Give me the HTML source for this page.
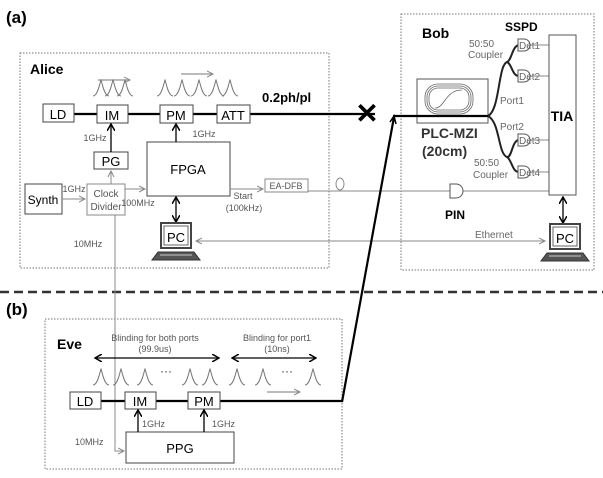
<!DOCTYPE html>
<html><head><meta charset="utf-8"><style>
html,body{margin:0;padding:0;background:#fff}
svg{display:block;font-family:"Liberation Sans",Arial,sans-serif}
</style></head><body>
<svg width="603" height="478" viewBox="0 0 603 478" xmlns="http://www.w3.org/2000/svg">
<defs>
<marker id="ab" markerWidth="8" markerHeight="8" refX="6" refY="4" orient="auto" markerUnits="userSpaceOnUse"><path d="M0,0 L7,4 L0,8" fill="none" stroke="#000" stroke-width="1.5"/></marker>
<marker id="ag" markerWidth="8" markerHeight="8" refX="6" refY="4" orient="auto" markerUnits="userSpaceOnUse"><path d="M0,1 L6,4 L0,7" fill="none" stroke="#888" stroke-width="1"/></marker>
<marker id="abs" markerWidth="8" markerHeight="8" refX="6" refY="4" orient="auto-start-reverse" markerUnits="userSpaceOnUse"><path d="M0,0 L7,4 L0,8" fill="none" stroke="#000" stroke-width="1.5"/></marker>
<g id="pk"><path d="M-8,0 C-3,0 -1,-14 0,-16 C1,-14 3,0 8,0" fill="none" stroke="#777" stroke-width="1"/></g>
<g id="pc"><rect x="-15" y="0" width="30" height="25" fill="#fff" stroke="#444" stroke-width="2"/><rect x="-12" y="3" width="24" height="19" fill="#fff" stroke="#666"/><path d="M-18,29 L18,29 L24,37 L-24,37 Z" fill="#555" stroke="#333"/><line x1="-16" y1="32" x2="16" y2="32" stroke="#ccc"/></g>
<g id="det"><path d="M0,-6 L6,-6 A6,6 0 0 1 6,6 L0,6 Z" fill="#fff" stroke="#555" stroke-width="1"/></g>
</defs>
<g font-weight="bold" font-size="17" fill="#000"><text x="6" y="23">(a)</text><text x="6" y="315">(b)</text></g>
<rect x="20" y="53" width="309" height="215" fill="none" stroke="#777" stroke-dasharray="1.5,1.5"/>
<rect x="401" y="14" width="193" height="256" fill="none" stroke="#777" stroke-dasharray="1.5,1.5"/>
<rect x="45" y="319" width="297" height="150" fill="none" stroke="#777" stroke-dasharray="1.5,1.5"/>
<line x1="0" y1="292" x2="603" y2="292" stroke="#333" stroke-width="2.5" stroke-dasharray="9,5"/>
<g font-weight="bold" font-size="14"><text x="30" y="74">Alice</text><text x="422" y="38">Bob</text><text x="57" y="349">Eve</text></g>
<line x1="74" y1="114" x2="375" y2="114" stroke="#000" stroke-width="2.2"/>
<text x="367" y="123" font-size="28" font-weight="bold" text-anchor="middle">✕</text>
<g font-size="13" stroke="#444" fill="#fff">
<rect x="43" y="104" width="31" height="18"/><rect x="97" y="105" width="31" height="18"/><rect x="160" y="105" width="33" height="18"/><rect x="217" y="105" width="33" height="18"/>
<rect x="94" y="152" width="34" height="17"/><rect x="147" y="142" width="83" height="54"/><rect x="25" y="184" width="37" height="30"/><rect x="87" y="184" width="38" height="31" stroke="#888"/><rect x="265" y="179" width="43" height="13" stroke="#888"/>
</g>
<g font-size="13" text-anchor="middle" fill="#000">
<text x="58" y="119">LD</text><text x="112" y="120">IM</text><text x="176" y="120">PM</text><text x="233" y="120">ATT</text><text x="111" y="166">PG</text><text x="188" y="174">FPGA</text><text x="43" y="204" font-size="12">Synth</text>
</g>
<text x="262" y="102" font-size="13" font-weight="bold">0.2ph/pl</text>
<g font-size="9" fill="#555" text-anchor="middle"><text x="106" y="197" font-size="10">Clock</text><text x="106" y="210" font-size="10">Divider</text><text x="286" y="189">EA-DFB</text>
<text x="74" y="192">1GHz</text><text x="138" y="206">100MHz</text><text x="243" y="199">Start</text><text x="244" y="211">(100kHz)</text><text x="95" y="141">1GHz</text><text x="204" y="137">1GHz</text><text x="88" y="247">10MHz</text></g>
<use href="#pk" x="101" y="96"/><use href="#pk" x="113" y="96"/><use href="#pk" x="125" y="96"/>
<use href="#pk" x="165" y="96"/><use href="#pk" x="182" y="96"/><use href="#pk" x="199" y="96"/><use href="#pk" x="216" y="96"/><use href="#pk" x="230" y="96"/>
<line x1="98" y1="80" x2="130" y2="80" stroke="#777" marker-end="url(#ag)"/>
<line x1="181" y1="74" x2="213" y2="74" stroke="#777" marker-end="url(#ag)"/>
<g stroke="#000" stroke-width="1.3"><line x1="111" y1="152" x2="111" y2="125" marker-end="url(#ab)"/><line x1="176" y1="142" x2="176" y2="125" marker-end="url(#ab)"/><line x1="176" y1="198" x2="176" y2="221" marker-end="url(#abs)" marker-start="url(#abs)"/></g>
<g stroke="#888" stroke-width="1" fill="none">
<line x1="111" y1="184" x2="111" y2="171" marker-end="url(#ag)"/><line x1="62" y1="199" x2="85" y2="199" marker-end="url(#ag)"/><line x1="125" y1="189" x2="145" y2="189" marker-end="url(#ag)"/><line x1="230" y1="189" x2="263" y2="189" marker-end="url(#ag)"/>
<line x1="308" y1="191" x2="450" y2="191"/><ellipse cx="340" cy="184" rx="4" ry="6"/>
<line x1="545" y1="241" x2="196" y2="241" marker-end="url(#ag)"/><line x1="196" y1="241" x2="545" y2="241" marker-end="url(#ag)"/>
<line x1="462" y1="191" x2="549" y2="191"/>
<polyline points="115,215 115,451 124,451" marker-end="url(#ag)"/>
</g>
<use href="#pc" x="176" y="223"/>
<text x="176" y="242" font-size="13" text-anchor="middle">PC</text>
<path d="M450,184 L456,184 A7,7 0 0 1 456,198 L450,198 Z" fill="#fff" stroke="#555"/>
<text x="455" y="219" font-size="12" font-weight="bold" text-anchor="middle">PIN</text>
<text x="475" y="238" font-size="10" fill="#666">Ethernet</text>
<rect x="417" y="79" width="71" height="44" fill="#fff" stroke="#555"/>
<g fill="none" stroke="#666" stroke-width="0.8">
<rect x="425" y="84" width="48" height="30" rx="13"/><rect x="427" y="86" width="44" height="26" rx="11"/><rect x="429" y="88" width="40" height="22" rx="9"/>
<path d="M435,108 C445,108 445,90 462,90"/>
</g>
<polyline points="342,402 394,117" fill="none" stroke="#000" stroke-width="2.2"/>
<line x1="393" y1="116" x2="488" y2="116" stroke="#000" stroke-width="2.2"/>
<path d="M396,124 L394,116 L390,122" fill="none" stroke="#000" stroke-width="1.5"/>
<g fill="none" stroke="#222" stroke-width="2">
<path d="M488,116 C500,110 498,65 507,62 C512,60 512,46 519,45"/><path d="M507,62 C512,64 512,76 519,76"/>
<path d="M488,116 C500,122 498,154 507,157 C512,158 512,140 519,140"/><path d="M507,157 C512,160 512,172 519,172"/>
</g>
<use href="#det" x="518" y="45"/><use href="#det" x="518" y="76"/><use href="#det" x="518" y="140"/><use href="#det" x="518" y="172"/>
<g font-size="10" fill="#666"><text x="519" y="49">Det1</text><text x="519" y="80">Det2</text><text x="519" y="144">Det3</text><text x="519" y="176">Det4</text>
<text x="469" y="47">50:50</text><text x="468" y="58">Coupler</text><text x="474" y="166">50:50</text><text x="473" y="178">Coupler</text><text x="500" y="104">Port1</text><text x="500" y="130">Port2</text></g>
<g stroke="#888"><line x1="530" y1="45" x2="549" y2="45"/><line x1="530" y1="76" x2="549" y2="76"/><line x1="530" y1="140" x2="549" y2="140"/><line x1="530" y1="172" x2="549" y2="172"/></g>
<text x="505" y="31" font-size="12" font-weight="bold">SSPD</text>
<rect x="549" y="35" width="27" height="160" fill="#fff" stroke="#555"/>
<text x="562" y="121" font-size="14" font-weight="bold" text-anchor="middle">TIA</text>
<g font-size="14" font-weight="bold" fill="#333"><text x="421" y="138">PLC-MZI</text><text x="422" y="156">(20cm)</text></g>
<line x1="563" y1="198" x2="563" y2="222" stroke="#000" stroke-width="1.3" marker-end="url(#abs)" marker-start="url(#abs)"/>
<use href="#pc" x="565" y="224"/>
<text x="565" y="243" font-size="13" text-anchor="middle">PC</text>
<line x1="101" y1="401" x2="342" y2="401" stroke="#000" stroke-width="2.2"/>
<g stroke="#444" fill="#fff"><rect x="70" y="392" width="31" height="17"/><rect x="125" y="392" width="31" height="17"/><rect x="188" y="392" width="32" height="17"/><rect x="126" y="432" width="108" height="31"/></g>
<g font-size="13" text-anchor="middle"><text x="85" y="406">LD</text><text x="140" y="406">IM</text><text x="204" y="406">PM</text><text x="180" y="453">PPG</text></g>
<g font-size="9" fill="#555"><text x="142" y="427">1GHz</text><text x="212" y="427">1GHz</text><text x="75" y="445">10MHz</text>
<text x="155" y="341" text-anchor="middle">Blinding for both ports</text><text x="155" y="352" text-anchor="middle">(99.9us)</text>
<text x="277" y="341" text-anchor="middle">Blinding for port1</text><text x="277" y="352" text-anchor="middle">(10ns)</text></g>
<g stroke="#000" stroke-width="1.3"><line x1="138" y1="432" x2="138" y2="411" marker-end="url(#ab)"/><line x1="204" y1="432" x2="204" y2="411" marker-end="url(#ab)"/>
<line x1="96" y1="358" x2="218" y2="358" marker-end="url(#abs)" marker-start="url(#abs)"/><line x1="233" y1="358" x2="315" y2="358" marker-end="url(#abs)" marker-start="url(#abs)"/></g>
<use href="#pk" x="101" y="385"/><use href="#pk" x="121" y="385"/><use href="#pk" x="145" y="385"/><use href="#pk" x="190" y="385"/><use href="#pk" x="210" y="385"/><use href="#pk" x="237" y="385"/><use href="#pk" x="263" y="385"/><use href="#pk" x="313" y="385"/>
<g font-size="12" fill="#333"><text x="160" y="375">···</text><text x="281" y="375">···</text></g>
<line x1="267" y1="392" x2="300" y2="392" stroke="#777" marker-end="url(#ag)"/>
</svg>
</body></html>
